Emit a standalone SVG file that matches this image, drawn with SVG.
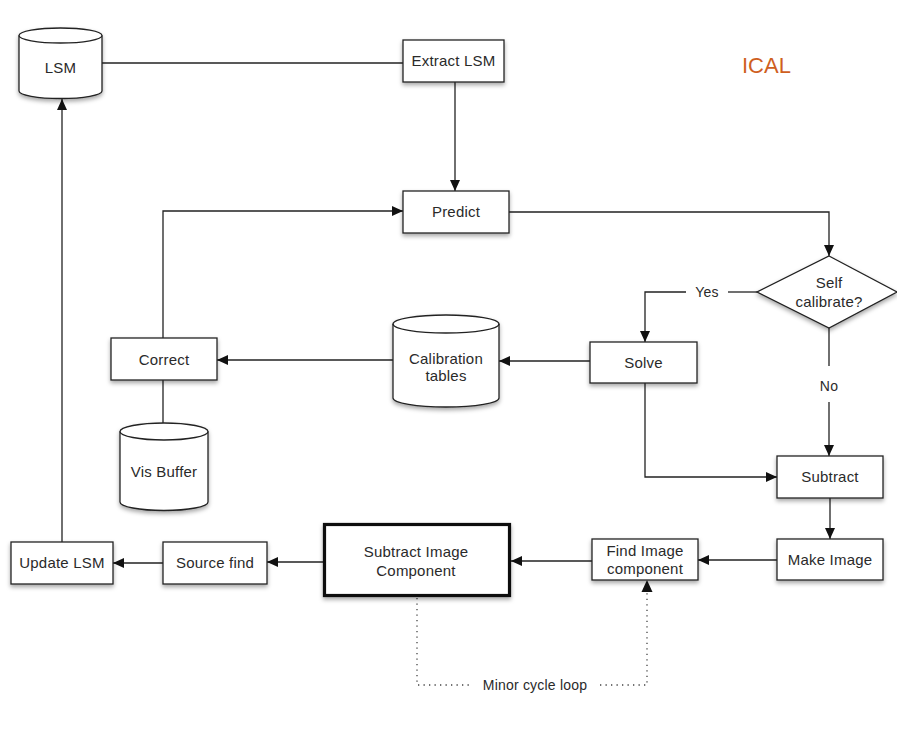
<svg xmlns="http://www.w3.org/2000/svg" width="897" height="731" viewBox="0 0 897 731">
<style>
.box{fill:#fff;stroke:#222;stroke-width:1.3}
.thick{fill:#fff;stroke:#111;stroke-width:3.2}
.lbl{font-family:"Liberation Sans",Arial,sans-serif;font-size:15px;fill:#2a2a2a;text-anchor:middle;letter-spacing:0.2px}
.ln{fill:none;stroke:#222;stroke-width:1.3}
.arr{marker-end:url(#ah)}
.dot{fill:none;stroke:#444;stroke-width:1.3;stroke-dasharray:1.3 4.2}
</style>
<defs>
<marker id="ah" markerUnits="userSpaceOnUse" markerWidth="12" markerHeight="10" refX="11" refY="5" orient="auto">
<path d="M0,0 L11,5 L0,10 Z" fill="#111"/>
</marker>
<filter id="sh" x="-20%" y="-20%" width="140%" height="150%">
<feDropShadow dx="0" dy="2.5" stdDeviation="2" flood-color="#000" flood-opacity="0.35"/>
</filter>
</defs>
<rect width="897" height="731" fill="#fff"/>

<g id="connectors">
<path class="ln" d="M102,63 H403"/>
<path class="ln arr" d="M455,82 V191"/>
<path class="ln arr" d="M163,338 V211 H403"/>
<path class="ln arr" d="M509,212 H829 V256"/>
<path class="ln" d="M757,292 H728"/>
<path class="ln arr" d="M686,292 H645 V342"/>
<path class="ln" d="M829,328 V366"/>
<path class="ln arr" d="M829,402 V456"/>
<path class="ln arr" d="M590,361 H499"/>
<path class="ln arr" d="M393,360 H217"/>
<path class="ln" d="M163,380 V423"/>
<path class="ln arr" d="M645,383 V477 H777"/>
<path class="ln arr" d="M830,498 V539"/>
<path class="ln arr" d="M777,560 H698"/>
<path class="ln arr" d="M592,561 H511"/>
<path class="ln arr" d="M323,562 H267"/>
<path class="ln arr" d="M163,563 H113"/>
<path class="ln arr" d="M62,542 V99"/>
<path class="dot" d="M417,598 V685 H470"/>
<path class="dot" d="M600,685 H647 V592"/>
<path d="M641.5,592 L647,580 L652.5,592 Z" fill="#111"/>
<text class="lbl" x="707" y="297" style="font-size:14px">Yes</text>
<text class="lbl" x="829" y="391" style="font-size:14px">No</text>
<text class="lbl" x="535" y="690" style="font-size:14px">Minor cycle loop</text>
</g>

<g id="lsm">
<path class="box" filter="url(#sh)" d="M19,35.5 A41.5,7.5 0 0 1 102,35.5 V91 A41.5,7.5 0 0 1 19,91 Z"/>
<path class="ln" d="M19,35.5 A41.5,7.5 0 0 0 102,35.5"/>
<text class="lbl" x="60.5" y="73">LSM</text>
</g>

<g id="extract-lsm">
<rect class="box" filter="url(#sh)" x="403" y="40" width="101" height="42"/>
<text class="lbl" x="453.5" y="66">Extract LSM</text>
</g>

<g id="ical">
<text x="742" y="73" style="font-family:'Liberation Sans',Arial,sans-serif;font-size:22px;fill:#cf5f1f">ICAL</text>
</g>

<g id="predict">
<rect class="box" filter="url(#sh)" x="403" y="191" width="106" height="42"/>
<text class="lbl" x="456" y="217">Predict</text>
</g>

<g id="self-calibrate">
<polygon class="box" filter="url(#sh)" points="829,256 897,292 829,328 757,292"/>
<text class="lbl" x="829" y="288">Self</text>
<text class="lbl" x="829" y="307">calibrate?</text>
</g>

<g id="solve">
<rect class="box" filter="url(#sh)" x="590" y="342" width="107" height="41"/>
<text class="lbl" x="643.5" y="368">Solve</text>
</g>

<g id="calibration-tables">
<path class="box" filter="url(#sh)" d="M393,324 A53,9 0 0 1 499,324 V398 A53,9 0 0 1 393,398 Z"/>
<path class="ln" d="M393,324 A53,9 0 0 0 499,324"/>
<text class="lbl" x="446" y="364">Calibration</text>
<text class="lbl" x="446" y="381">tables</text>
</g>

<g id="correct">
<rect class="box" filter="url(#sh)" x="111" y="338" width="106" height="42"/>
<text class="lbl" x="164" y="365">Correct</text>
</g>

<g id="vis-buffer">
<path class="box" filter="url(#sh)" d="M120,431.5 A44,8.5 0 0 1 208,431.5 V502 A44,8.5 0 0 1 120,502 Z"/>
<path class="ln" d="M120,431.5 A44,8.5 0 0 0 208,431.5"/>
<text class="lbl" x="164" y="477">Vis Buffer</text>
</g>

<g id="subtract">
<rect class="box" filter="url(#sh)" x="777" y="456" width="106" height="42"/>
<text class="lbl" x="830" y="482">Subtract</text>
</g>

<g id="make-image">
<rect class="box" filter="url(#sh)" x="777" y="539" width="106" height="41"/>
<text class="lbl" x="830" y="565">Make Image</text>
</g>

<g id="find-image-component">
<rect class="box" filter="url(#sh)" x="592" y="539" width="106" height="41"/>
<text class="lbl" x="645" y="556">Find Image</text>
<text class="lbl" x="645" y="574">component</text>
</g>

<g id="subtract-image-component">
<rect class="thick" filter="url(#sh)" x="324.5" y="524.5" width="185" height="71"/>
<text class="lbl" x="416" y="557">Subtract Image</text>
<text class="lbl" x="416" y="576">Component</text>
</g>

<g id="source-find">
<rect class="box" filter="url(#sh)" x="163" y="542" width="104" height="42"/>
<text class="lbl" x="215" y="568">Source find</text>
</g>

<g id="update-lsm">
<rect class="box" filter="url(#sh)" x="11" y="542" width="102" height="42"/>
<text class="lbl" x="62" y="568">Update LSM</text>
</g>
</svg>
